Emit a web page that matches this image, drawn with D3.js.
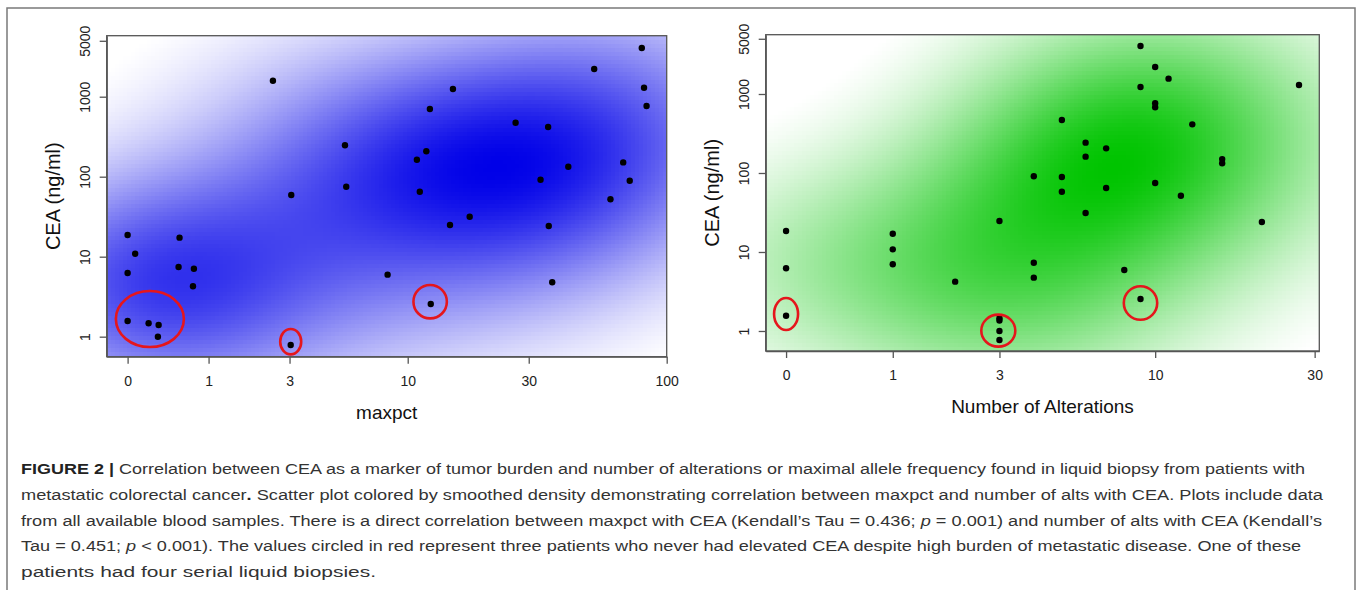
<!DOCTYPE html>
<html>
<head>
<meta charset="utf-8">
<script src="https://cdn.jsdelivr.net/npm/d3@7"></script>
<style>
  body { margin: 0; background: #fff; }
  svg { display: block; font-family: 'Liberation Sans', Arial, Helvetica, sans-serif; }
  .tick text { fill: #222; }
</style>
</head>
<body>
<script>
(function () {

    'use strict'

    // left panel: maximal allele frequency vs CEA
    const maxpct = [2.47, 5.43, 5.5, 3.06, 0, 0.56, 0.067, 0, 0.547, 0.764,
        0.75, 8.26, 0, 0.197, 0.304, 0.296, 3.04, 80.6, 53.3, 15.2,
        82.2, 84, 12.3, 26.7, 35.6, 11.9, 10.9, 42.5, 68.6, 33.3,
        72.6, 11.2, 61.4, 17.7, 14.8, 35.8, 36.9, 12.4]
    const ceaLeft = [1585, 247, 75, 59, 18.7, 17.3, 10.9, 6.26, 7.43, 7.08,
        4.27, 5.96, 1.57, 1.47, 1.40, 1.0, 0.787, 4062, 2220, 1248,
        1296, 765, 702, 473, 418, 207.7, 163, 133, 151, 91.7,
        89, 64.9, 52.2, 31.6, 24.9, 24.2, 4.79, 2.56]

    // right panel: number of alterations vs CEA
    const alterations = [0, 0, 0, 1, 1, 1, 2, 3, 3, 3, 3, 3, 4, 4, 4,
        9, 10, 11, 9, 27, 10, 10, 5, 13, 6, 7, 6, 16, 16, 5,
        10, 7, 5, 12, 6, 21, 8, 9]
    const ceaRight = [18.4, 6.22, 1.56, 17.0, 10.8, 6.98, 4.21, 24.7, 1.45, 1.36, 1.0, 0.77, 90.8, 7.32, 4.73,
        4051, 2197, 1563, 1226, 1300, 762, 679, 469, 413, 242, 205, 161, 150, 133, 89,
        74.7, 64.6, 58, 51.6, 31.2, 24, 5.92, 2.54]

    // tick labels
    const xTicksLeft = [0, 1, 3, 10, 30, 100]
    const xTicksRight = [0, 1, 3, 10, 30]
    const yTicks = [1, 10, 100, 1000, 5000]

    // red circles, centred on data values
    const circledLeft = [[0.21, 1.66], [3.04, 0.866], [12.33, 2.74]]
    const circledRight = [[0, 1.64], [2.97, 1.01], [9, 2.26]]

    const captionLines = [
        [['b', 'FIGURE 2 | '], ['n', 'Correlation between CEA as a marker of tumor burden and number of alterations or maximal allele frequency found in liquid biopsy from patients with']],
        [['n', 'metastatic colorectal cancer'], ['b', '.'], ['n', ' Scatter plot colored by smoothed density demonstrating correlation between maxpct and number of alts with CEA. Plots include data']],
        [['n', 'from all available blood samples. There is a direct correlation between maxpct with CEA (Kendall\u2019s Tau = 0.436; '], ['i', 'p'], ['n', ' = 0.001) and number of alts with CEA (Kendall\u2019s']],
        [['n', 'Tau = 0.451; '], ['i', 'p'], ['n', ' < 0.001). The values circled in red represent three patients who never had elevated CEA despite high burden of metastatic disease. One of these']],
        [['n', 'patients had four serial liquid biopsies.']]
    ]
    const captionWidths = [1284, 1302, 1301, 1280, 355]

    const W = 1357, H = 590

    const svg = d3.select('body').append('svg')
        .attr('width', W)
        .attr('height', H)

    svg.append('rect').attr('width', W).attr('height', H).attr('fill', '#fff')

    // outer figure frame (bottom edge is outside the picture)
    svg.append('rect')
        .attr('x', 7).attr('y', 8)
        .attr('width', 1348).attr('height', 620)
        .attr('fill', 'none')
        .attr('stroke', '#7a7a7a')
        .attr('stroke-width', 1.5)

    const panels = [
        {
            id: 'l', xs: maxpct, ys: ceaLeft, xTicks: xTicksLeft,
            xDomain: [-0.196, 100], yDomain: [0.562, 5789],
            box: { x0: 106.7, x1: 666.7, y0: 35.7, y1: 356.7 },
            color: '#0000e8', xTitle: 'maxpct', xTitleY: 412,
            circled: circledLeft, radii: [[34, 28], [10.5, 12.7], [16.7, 16.7]]
        },
        {
            id: 'r', xs: alterations, ys: ceaRight, xTicks: xTicksRight,
            xDomain: [-0.1415, 30.95], yDomain: [0.558, 5631],
            box: { x0: 765.7, x1: 1319.3, y0: 34.7, y1: 351 },
            color: '#00c400', xTitle: 'Number of Alterations', xTitleY: 406,
            circled: circledRight, radii: [[12, 16], [17, 16], [16.7, 16.7]]
        }
    ]

    panels.forEach(drawPanel)
    drawCaption()

    function drawPanel(p) {
        const b = p.box

        // x values are shown on a log(x + 1) axis
        const x = d3.scaleSymlog().constant(1)
            .domain(p.xDomain)
            .range([b.x0, b.x1])

        const y = d3.scaleLog()
            .domain(p.yDomain)
            .range([b.y1, b.y0])

        const pts = p.xs.map((v, i) => [x(v), y(p.ys[i])])

        // smoothed density background
        svg.append('clipPath').attr('id', 'clip-' + p.id)
            .append('rect')
            .attr('x', b.x0).attr('y', b.y0)
            .attr('width', b.x1 - b.x0).attr('height', b.y1 - b.y0)

        const cell = 4, sx = 118, sy = 70
        let cells = []
        for (let cx = b.x0; cx < b.x1; cx += cell) {
            for (let cy = b.y0; cy < b.y1; cy += cell) {
                let mx = cx + cell / 2, my = cy + cell / 2
                let d = 0
                pts.forEach(q => {
                    let dx = (mx - q[0]) / sx, dy = (my - q[1]) / sy
                    d += Math.exp(-0.5 * (dx * dx + dy * dy))
                })
                cells.push({ x: cx, y: cy, d: d })
            }
        }
        const dmax = d3.max(cells, c => c.d)
        const ramp = d3.interpolateRgb('#ffffff', p.color)
        const shade = d => Math.max(0, (d / dmax - 0.06) / 0.94)

        svg.append('g')
            .attr('clip-path', 'url(#clip-' + p.id + ')')
            .selectAll('rect')
            .data(cells)
            .enter()
            .append('rect')
            .attr('x', c => c.x)
            .attr('y', c => c.y)
            .attr('width', cell + 0.4)
            .attr('height', cell + 0.4)
            .attr('fill', c => ramp(shade(c.d)))
            .attr('shape-rendering', 'crispEdges')

        // plot box
        svg.append('rect')
            .attr('x', b.x0).attr('y', b.y0)
            .attr('width', b.x1 - b.x0).attr('height', b.y1 - b.y0)
            .attr('fill', 'none')
            .attr('stroke', '#555')
            .attr('stroke-width', 1.3)

        // axes
        const xAxis = svg.append('g')
            .attr('transform', 'translate(0,' + b.y1 + ')')
            .call(d3.axisBottom(x).tickValues(p.xTicks).tickFormat(d3.format('d')).tickSize(7).tickSizeOuter(0))
        xAxis.selectAll('text')
            .attr('y', 24)
            .attr('dy', '0.35em')
            .style('font-size', '14px')

        const yAxis = svg.append('g')
            .attr('transform', 'translate(' + b.x0 + ',0)')
            .call(d3.axisLeft(y).tickValues(yTicks).tickFormat(d3.format('d')).tickSize(7).tickSizeOuter(0))
        yAxis.selectAll('text')
            .attr('x', 0)
            .attr('y', -21.5)
            .attr('dy', '0.35em')
            .attr('transform', 'rotate(-90)')
            .attr('text-anchor', 'middle')
            .style('font-size', '14px')

        svg.selectAll('.domain').attr('stroke', '#555').attr('stroke-width', 1.3)
        svg.selectAll('.tick line').attr('stroke', '#555').attr('stroke-width', 1.3)

        // axis titles
        svg.append('text')
            .attr('x', (b.x0 + b.x1) / 2)
            .attr('y', p.xTitleY)
            .attr('dy', '0.35em')
            .attr('text-anchor', 'middle')
            .style('font-size', '19px')
            .attr('fill', '#111')
            .text(p.xTitle)

        svg.append('text')
            .attr('transform', 'translate(' + (b.x0 - 54) + ',' + ((b.y0 + b.y1) / 2) + ') rotate(-90)')
            .attr('dy', '0.35em')
            .attr('text-anchor', 'middle')
            .style('font-size', '20px')
            .attr('fill', '#111')
            .text('CEA (ng/ml)')

        // points
        svg.append('g')
            .selectAll('circle')
            .data(p.xs.map((v, i) => ({ x: v, y: p.ys[i] })))
            .enter()
            .append('circle')
            .attr('cx', d => x(d.x))
            .attr('cy', d => y(d.y))
            .attr('r', 3.2)
            .attr('fill', '#000')

        // red circles
        svg.append('g')
            .selectAll('ellipse')
            .data(p.circled)
            .enter()
            .append('ellipse')
            .attr('cx', d => x(d[0]))
            .attr('cy', d => y(d[1]))
            .attr('rx', (d, i) => p.radii[i][0])
            .attr('ry', (d, i) => p.radii[i][1])
            .attr('fill', 'none')
            .attr('stroke', '#e5161c')
            .attr('stroke-width', 2.6)
    }

    function drawCaption() {
        const g = svg.append('g')
        captionLines.forEach((line, i) => {
            const t = g.append('text')
                .attr('x', 21)
                .attr('y', 474 + i * 25.8)
                .attr('textLength', captionWidths[i])
                .attr('lengthAdjust', 'spacingAndGlyphs')
                .style('font-size', '15.5px')
                .attr('fill', '#333')
            line.forEach(part => {
                t.append('tspan')
                    .style('font-weight', part[0] == 'b' ? 'bold' : 'normal')
                    .style('font-style', part[0] == 'i' ? 'italic' : 'normal')
                    .attr('fill', part[0] == 'b' ? '#222' : '#333')
                    .text(part[1])
            })
        })
    }
})()
</script>
</body>
</html>
